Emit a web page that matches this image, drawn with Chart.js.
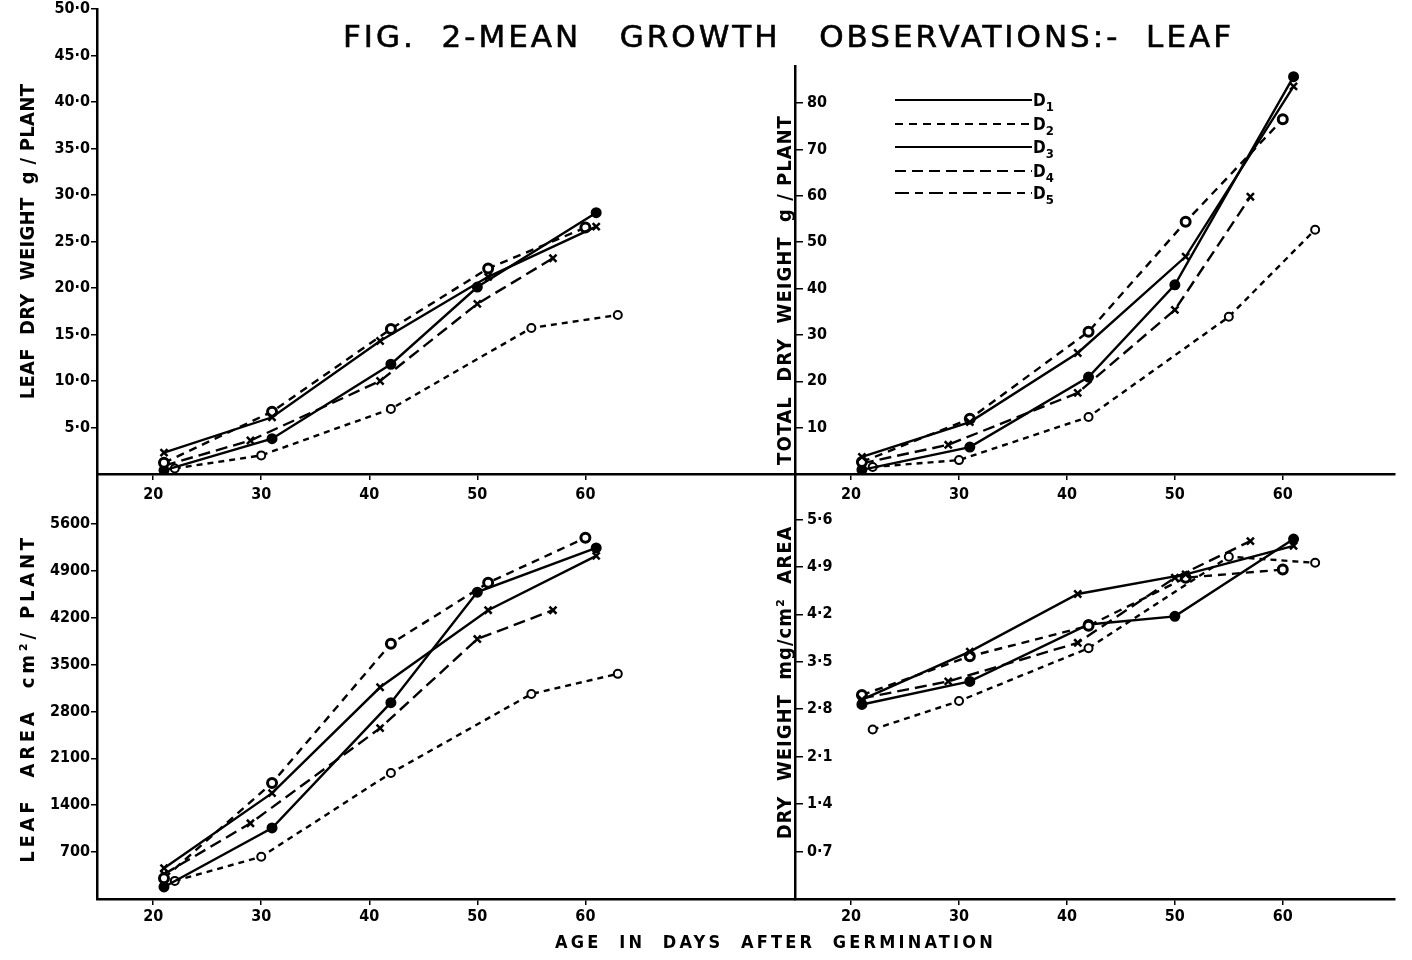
<!DOCTYPE html>
<html>
<head>
<meta charset="utf-8">
<script src="https://cdn.jsdelivr.net/npm/chart.js@4.4.1/dist/chart.umd.min.js"></script>
<style>
html,body{margin:0;padding:0;background:#fff;}
#wrap{position:relative;width:1412px;height:960px;overflow:hidden;background:#fff;}
canvas.layer{position:absolute;left:0;top:0;width:1412px;height:960px;}
#figtitle{position:absolute;left:343px;top:18px;font:31px "DejaVu Sans",sans-serif;letter-spacing:3.0px;white-space:pre;color:#000;line-height:36px;-webkit-text-stroke:0.6px #000;}
#xtitle{position:absolute;left:555px;top:931px;font:bold 18px "DejaVu Sans Condensed","DejaVu Sans",sans-serif;letter-spacing:3.2px;white-space:pre;color:#000;}
#legend{position:absolute;left:880px;top:85px;}
</style>
</head>
<body>
<div id="wrap">
  <canvas id="cTL" class="layer" width="1412" height="960"></canvas>
  <canvas id="cTR" class="layer" width="1412" height="960"></canvas>
  <canvas id="cBL" class="layer" width="1412" height="960"></canvas>
  <canvas id="cBR" class="layer" width="1412" height="960"></canvas>
  <div id="figtitle">FIG.  2-MEAN   GROWTH   OBSERVATIONS:-  LEAF</div>
  <div id="xtitle">AGE  IN  DAYS  AFTER  GERMINATION</div>
  <svg id="legend" width="200" height="130" xmlns="http://www.w3.org/2000/svg"></svg>
</div>
<script>
// ---------- DATA ----------
const seriesNames = ['D1', 'D2', 'D3', 'D4', 'D5'];

// sampling ages (days after germination) for each series
const daysD1 = [21, 31, 41, 51, 61];
const daysD2 = [21, 31, 42, 51, 60];
const daysD3 = [21, 31, 42, 50, 61];
const daysD4 = [21, 29, 41, 50, 57];
const daysD5 = [22, 30, 42, 55, 63];

// Leaf dry weight g / plant
const leafDryD1 = [2.3, 6.1, 14.3, 21.2, 26.6];
const leafDryD2 = [1.2, 6.7, 15.6, 22.1, 26.5];
const leafDryD3 = [0.4, 3.8, 11.8, 20.1, 28.1];
const leafDryD4 = [0.9, 3.6, 10.0, 18.3, 23.2];
const leafDryD5 = [0.6, 2.0, 7.0, 15.7, 17.1];

// Total dry weight g / plant
const totalDryD1 = [3.7, 11.2, 26.1, 46.9, 83.6];
const totalDryD2 = [2.6, 11.9, 30.7, 54.4, 76.5];
const totalDryD3 = [0.9, 5.8, 20.9, 40.8, 85.7];
const totalDryD4 = [2.3, 6.3, 17.5, 35.4, 59.8];
const totalDryD5 = [1.5, 3.0, 12.3, 33.9, 52.7];

// Leaf area cm2 / plant
const leafAreaD1 = [460, 1580, 3160, 4310, 5120];
const leafAreaD2 = [310, 1730, 3810, 4720, 5390];
const leafAreaD3 = [180, 1060, 2930, 4580, 5240];
const leafAreaD4 = [370, 1130, 2550, 3880, 4310];
const leafAreaD5 = [270, 630, 1880, 3060, 3360];

// Dry weight mg / cm2 area
const sla_D1 = [2.94, 3.65, 4.50, 4.79, 5.21];
const sla_D2 = [3.01, 3.58, 4.03, 4.74, 4.86];
const sla_D3 = [2.87, 3.21, 4.05, 4.17, 5.31];
const sla_D4 = [2.96, 3.21, 3.78, 4.74, 5.28];
const sla_D5 = [2.50, 2.92, 3.70, 5.05, 4.96];

// tick labels
const xTickDays = [20, 30, 40, 50, 60];
const leafDryTicks = [5, 10, 15, 20, 25, 30, 35, 40, 45, 50];
const totalDryTicks = [10, 20, 30, 40, 50, 60, 70, 80];
const leafAreaTicks = [700, 1400, 2100, 2800, 3500, 4200, 4900, 5600];
const slaTicks = [0.7, 1.4, 2.1, 2.8, 3.5, 4.2, 4.9, 5.6];

// ---------- STYLES ----------
const FONT = '"DejaVu Sans Condensed","DejaVu Sans",sans-serif';
const styles = [
  { dash: [], point: 'crossRot', r: 5, pbw: 2.5, bg: '#000' },
  { dash: [8, 6], point: 'circle', r: 4.5, pbw: 3, bg: '#fff' },
  { dash: [], point: 'circle', r: 4.5, pbw: 2, bg: '#000' },
  { dash: [12, 6], point: 'crossRot', r: 5, pbw: 2.5, bg: '#000' },
  { dash: [6, 5], point: 'circle', r: 4, pbw: 2, bg: '#fff' }
];
const allDays = [daysD1, daysD2, daysD3, daysD4, daysD5];

function makeDatasets(valueArrays) {
  return valueArrays.map((vals, i) => ({
    label: seriesNames[i],
    data: allDays[i].map((d, k) => ({ x: d, y: vals[k] })),
    borderColor: '#000',
    borderWidth: 2.4,
    borderDash: styles[i].dash,
    pointStyle: styles[i].point,
    pointRadius: styles[i].r,
    pointBorderWidth: styles[i].pbw,
    pointBackgroundColor: styles[i].bg,
    pointBorderColor: '#000',
    tension: 0,
    fill: false
  }));
}

function dotFmt(dec) {
  return v => Number(v).toFixed(dec).replace('.', '\u00B7');
}

function panel(id, c) {
  const mirror = c.mirror;
  return new Chart(document.getElementById(id), {
    type: 'line',
    data: { datasets: c.datasets },
    options: {
      responsive: false,
      animation: false,
      devicePixelRatio: 1,
      layout: { padding: { left: c.padL, right: c.padR, top: c.padT, bottom: c.padB } },
      plugins: { legend: { display: false }, tooltip: { enabled: false }, title: { display: false } },
      scales: {
        x: {
          type: 'linear',
          min: c.xMin, max: c.xMax,
          afterBuildTicks: s => { s.ticks = xTickDays.map(v => ({ value: v })); },
          afterFit: s => { s.height = 40; },
          border: { color: '#000', width: 2.5 },
          grid: { drawOnChartArea: false, drawTicks: true, tickLength: 6, color: '#000', lineWidth: 1.5 },
          ticks: { color: '#000', padding: c.xPad, maxRotation: 0, font: { family: FONT, size: 16, weight: 'bold', lineHeight: 1 }, callback: v => String(v) }
        },
        y: {
          type: 'linear',
          min: 0, max: c.yMax,
          afterBuildTicks: s => { s.ticks = c.yTicks.map(v => ({ value: v })); },
          afterFit: s => {
            s.width = c.yW;
            if (!s._patchedTitle) {
              s._patchedTitle = true;
              const orig = Object.getPrototypeOf(s).drawTitle;
              s.drawTitle = function () {
                const ctx = this.ctx;
                ctx.save();
                ctx.translate(0, c.titleDy);
                ctx.letterSpacing = c.titleLs + 'px';
                orig.call(this);
                ctx.restore();
              };
            }
          },
          border: { color: '#000', width: 2.5 },
          grid: { drawOnChartArea: false, drawTicks: true, tickLength: mirror ? -8 : 6, color: '#000', lineWidth: 1.5 },
          ticks: { color: '#000', mirror: mirror, padding: mirror ? 12 : 1, font: { family: FONT, size: 16, weight: 'bold', lineHeight: 1 }, callback: c.fmt },
          title: { display: true, text: c.yTitle, color: '#000', padding: { top: 4, bottom: 4 }, font: { family: FONT, size: 20, weight: 'bold' } }
        }
      }
    }
  });
}

panel('cTL', {
  datasets: makeDatasets([leafDryD1, leafDryD2, leafDryD3, leafDryD4, leafDryD5]),
  padL: 13, yW: 84, padR: 617, padT: 9, padB: 446, xPad: 7,
  xMin: 14.8, xMax: 79.4, yMax: 50, yTicks: leafDryTicks, fmt: dotFmt(1), mirror: false,
  yTitle: 'LEAF  DRY  WEIGHT  g / PLANT', titleLs: 0.3, titleDy: 0
});
panel('cTR', {
  datasets: makeDatasets([totalDryD1, totalDryD2, totalDryD3, totalDryD4, totalDryD5]),
  padL: 769.4, yW: 25.6, padR: 17, padT: 66, padB: 446, xPad: 7,
  xMin: 14.8, xMax: 70.4, yMax: 88, yTicks: totalDryTicks, fmt: v => String(v), mirror: true,
  yTitle: 'TOTAL  DRY  WEIGHT  g / PLANT', titleLs: 1.0, titleDy: 20
});
panel('cBL', {
  datasets: makeDatasets([leafAreaD1, leafAreaD2, leafAreaD3, leafAreaD4, leafAreaD5]),
  padL: 13, yW: 84, padR: 617, padT: 474, padB: 21, xPad: 4,
  xMin: 14.8, xMax: 79.4, yMax: 6343, yTicks: leafAreaTicks, fmt: v => String(v), mirror: false,
  yTitle: 'LEAF  AREA  cm\u00B2/ PLANT', titleLs: 3.8, titleDy: 12
});
panel('cBR', {
  datasets: makeDatasets([sla_D1, sla_D2, sla_D3, sla_D4, sla_D5]),
  padL: 769.4, yW: 25.6, padR: 17, padT: 474, padB: 21, xPad: 4,
  xMin: 14.8, xMax: 70.4, yMax: 6.27, yTicks: slaTicks, fmt: dotFmt(1), mirror: true,
  yTitle: 'DRY  WEIGHT  mg/cm\u00B2  AREA', titleLs: 1.0, titleDy: -4
});

// ---------- LEGEND ----------
(function () {
  const svg = document.getElementById('legend');
  const NS = 'http://www.w3.org/2000/svg';
  const rowsY = [15, 39, 62, 86, 108];
  const legendDash = [[], [8, 6], [], [11, 6], [14, 6, 8, 6]];
  seriesNames.forEach((name, i) => {
    const ln = document.createElementNS(NS, 'line');
    ln.setAttribute('x1', 15); ln.setAttribute('x2', 152);
    ln.setAttribute('y1', rowsY[i]); ln.setAttribute('y2', rowsY[i]);
    ln.setAttribute('stroke', '#000'); ln.setAttribute('stroke-width', 2.2);
    if (legendDash[i].length) ln.setAttribute('stroke-dasharray', legendDash[i].join(' '));
    svg.appendChild(ln);
    const t = document.createElementNS(NS, 'text');
    t.setAttribute('x', 153); t.setAttribute('y', rowsY[i] + 6);
    t.setAttribute('font-family', 'DejaVu Sans Condensed, DejaVu Sans, sans-serif');
    t.setAttribute('font-weight', 'bold'); t.setAttribute('font-size', '17');
    t.appendChild(document.createTextNode('D'));
    const sub = document.createElementNS(NS, 'tspan');
    sub.setAttribute('font-size', '13'); sub.setAttribute('dy', '5');
    sub.textContent = name.slice(1);
    t.appendChild(sub);
    svg.appendChild(t);
  });
})();
</script>
</body>
</html>
